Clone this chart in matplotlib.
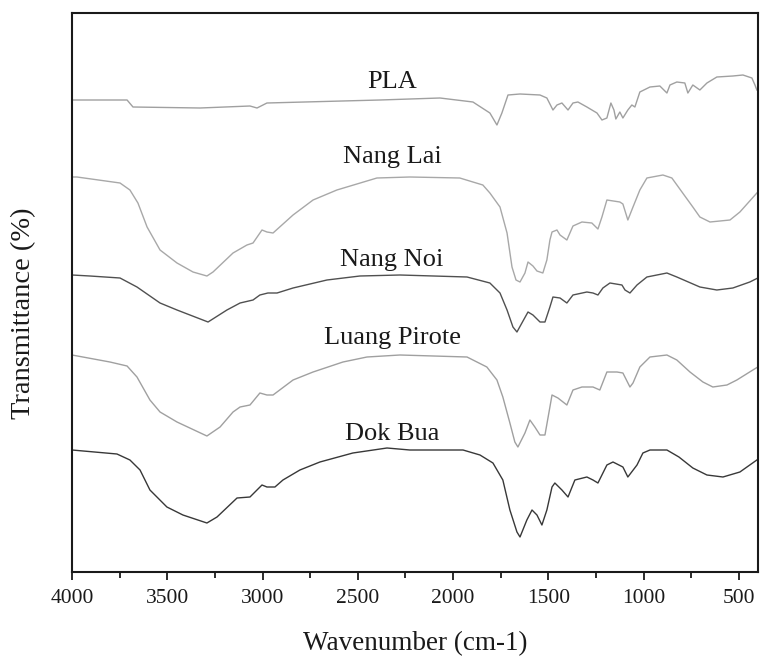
import numpy as np
import matplotlib
matplotlib.use("Agg")
import matplotlib.pyplot as plt
from matplotlib.ticker import MultipleLocator

plt.rcParams['font.family'] = ['Liberation Serif', 'DejaVu Serif']

# FTIR spectra (wavenumber in cm-1, stacked transmittance in a.u.)
pla_wn = [4000, 3711, 3680, 3328, 3066, 3029, 2977, 2384, 2069, 1896, 1807, 1770, 1744,
          1712, 1649, 1544, 1508, 1476, 1455, 1429, 1397, 1371, 1345, 1298, 1245, 1219,
          1193, 1172, 1156, 1146, 1125, 1109, 1083, 1062, 1046, 1020, 967, 915, 878, 862,
          826, 784, 768, 742, 705, 668, 616, 532, 479, 432, 416, 406]
pla_t = [472, 472, 465, 464, 466, 464, 469, 472, 474, 470, 459, 447, 459,
         477, 478, 477, 474, 462, 467, 469, 462, 469, 470, 465, 459, 452,
         454, 469, 462, 453, 460, 454, 462, 467, 465, 480, 485, 486, 479, 487,
         490, 489, 479, 487, 482, 489, 495, 496, 497, 494, 487, 482]

nanglai_wn = [4000, 3974, 3748, 3696, 3654, 3606, 3538, 3449, 3365, 3292, 3260, 3155, 3082,
              3050, 3003, 2977, 2945, 2840, 2735, 2610, 2400, 2227, 1965, 1896, 1844, 1807,
              1754, 1717, 1691, 1670, 1649, 1623, 1607, 1581, 1560, 1529, 1508, 1492, 1481,
              1455, 1439, 1403, 1371, 1324, 1272, 1240, 1219, 1193, 1125, 1109, 1083, 1056,
              1020, 983, 899, 852, 799, 742, 705, 652, 547, 495, 406]
nanglai_t = [395, 395, 389, 382, 369, 345, 322, 309, 300, 296, 300, 319, 327,
             329, 342, 340, 339, 357, 372, 382, 394, 395, 394, 390, 387, 379,
             365, 339, 305, 292, 290, 299, 310, 306, 301, 299, 312, 332, 340,
             342, 337, 332, 346, 350, 349, 343, 355, 372, 370, 368, 352, 365,
             382, 394, 397, 394, 380, 365, 355, 350, 352, 360, 379]

nangnoi_wn = [4000, 3906, 3748, 3659, 3538, 3449, 3286, 3187, 3118, 3050, 3014, 2972, 2924,
              2840, 2662, 2489, 2279, 1927, 1807, 1754, 1717, 1686, 1665, 1639, 1607, 1581,
              1544, 1518, 1492, 1476, 1439, 1403, 1371, 1298, 1266, 1240, 1214, 1177, 1114,
              1098, 1072, 1035, 983, 878, 826, 705, 616, 532, 443, 401]
nangnoi_t = [297, 296, 294, 285, 269, 262, 250, 262, 269, 272, 277, 279, 279,
             284, 292, 296, 297, 295, 289, 279, 262, 245, 240, 249, 260, 257,
             250, 250, 265, 275, 274, 269, 277, 280, 279, 277, 284, 289, 287,
             282, 279, 287, 295, 299, 295, 285, 282, 284, 290, 294]

luang_wn = [4000, 3801, 3711, 3659, 3591, 3538, 3449, 3292, 3223, 3155, 3118, 3066, 3014,
            2977, 2945, 2840, 2735, 2578, 2452, 2279, 1927, 1823, 1770, 1739, 1702, 1676,
            1660, 1623, 1597, 1571, 1544, 1518, 1492, 1481, 1450, 1403, 1371, 1324, 1266,
            1230, 1193, 1140, 1109, 1072, 1056, 1020, 967, 878, 826, 757, 689, 637, 563,
            511, 427, 401]
luang_t = [217, 210, 206, 195, 172, 160, 150, 136, 145, 160, 165, 167, 179,
           177, 177, 192, 200, 210, 215, 217, 215, 205, 192, 175, 149, 130,
           125, 139, 152, 145, 137, 137, 165, 177, 174, 167, 182, 185, 185,
           182, 200, 200, 199, 185, 189, 205, 215, 217, 212, 200, 190, 185, 187,
           192, 202, 205]

dokbua_wn = [4000, 3764, 3696, 3643, 3591, 3502, 3418, 3292, 3239, 3134, 3066, 3003, 2977,
             2935, 2893, 2804, 2699, 2526, 2347, 2227, 1948, 1859, 1791, 1739, 1702, 1665,
             1649, 1613, 1586, 1560, 1534, 1508, 1481, 1466, 1429, 1397, 1361, 1298, 1266,
             1240, 1193, 1161, 1109, 1083, 1035, 1004, 967, 878, 815, 742, 668, 584, 495, 406]
dokbua_t = [122, 118, 112, 102, 82, 65, 57, 49, 55, 74, 75, 87, 85,
            85, 92, 102, 110, 119, 124, 122, 122, 117, 109, 92, 62, 40,
            35, 52, 62, 57, 47, 62, 85, 89, 82, 75, 92, 95, 92,
            89, 107, 110, 105, 95, 107, 119, 122, 122, 115, 104, 97, 95, 100, 112]

names = ['PLA', 'Nang Lai', 'Nang Noi', 'Luang Pirote', 'Dok Bua']
label_y = [484, 409, 306, 228, 132]
colors = ['#a0a0a0', '#a8a8a8', '#505050', '#a0a0a0', '#383838']

series = [(pla_wn, pla_t), (nanglai_wn, nanglai_t), (nangnoi_wn, nangnoi_t),
          (luang_wn, luang_t), (dokbua_wn, dokbua_t)]

fig = plt.figure(figsize=(7.61, 6.58), dpi=100)
ax = fig.add_axes([72 / 761, 86 / 658, 686 / 761, 559 / 658])

for (wn, t), c in zip(series, colors):
    ax.plot(wn, t, color=c, lw=1.0)

for name, y in zip(names, label_y):
    ax.text(2320, y, name, ha='center', va='baseline', fontsize=19, color='#1a1a1a')

ax.set_xlim(4000, 400)
ax.set_ylim(0, 559)
ax.set_yticks([])
ax.xaxis.set_major_locator(MultipleLocator(500))
ax.xaxis.set_minor_locator(MultipleLocator(250))
ax.tick_params(axis='x', which='major', direction='out', length=6, width=1.3,
               labelsize=15.5, pad=6, colors='#1a1a1a')
ax.tick_params(axis='x', which='minor', direction='out', length=4.5, width=1.3,
               colors='#1a1a1a')
for s in ax.spines.values():
    s.set_linewidth(1.5)
    s.set_color('#1a1a1a')

ax.set_xlabel('Wavenumber (cm-1)', fontsize=19.5, color='#1a1a1a')
ax.xaxis.set_label_coords(0.5, -0.105)
ax.set_ylabel('Transmittance (%)', fontsize=20.5, color='#1a1a1a')
ax.yaxis.set_label_coords(-0.052, 0.463)

fig.savefig('out.png', dpi=100)
